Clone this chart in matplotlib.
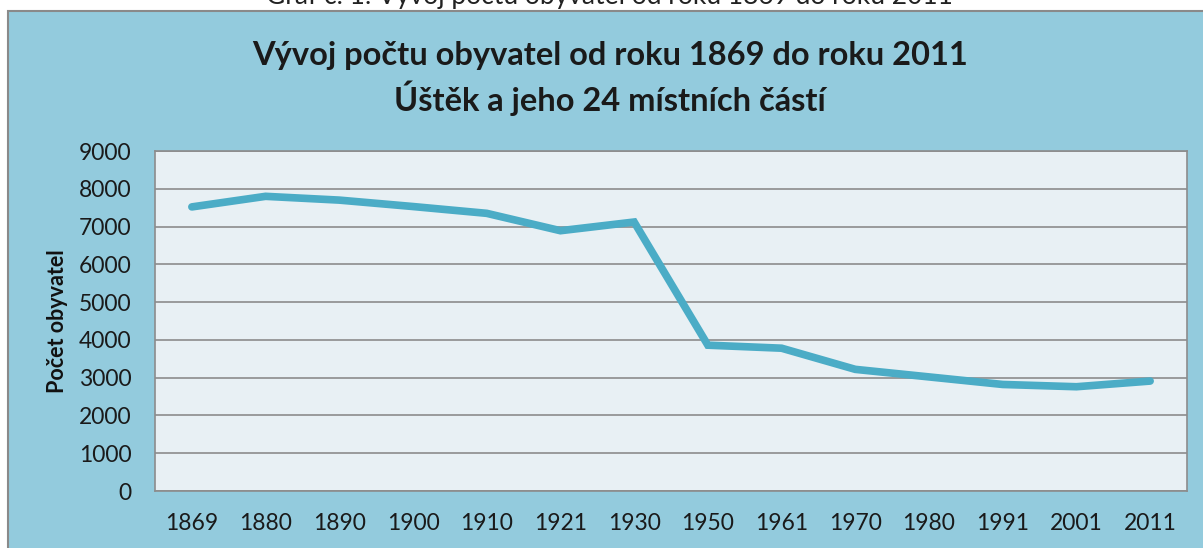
import matplotlib.pyplot as plt
from matplotlib.patches import Rectangle

plt.rcParams['font.family'] = ['Lato', 'DejaVu Sans']

years = ['1869', '1880', '1890', '1900', '1910', '1921', '1930',
         '1950', '1961', '1970', '1980', '1991', '2001', '2011']
population = [7520, 7800, 7700, 7530, 7350, 6890, 7120,
              3860, 3780, 3220, 3020, 2820, 2760, 2910]
y_ticks = list(range(0, 9001, 1000))

fig = plt.figure(figsize=(12.03, 5.48), dpi=100)
fig.patch.set_facecolor('white')

# outer light-blue chart box (right and bottom run off the picture)
fig.patches.append(Rectangle((8 / 1203, -0.05), 1.0, 1.05 - 11 / 548,
                             transform=fig.transFigure, facecolor='#93CBDD',
                             edgecolor='#8a8a8a', linewidth=1.5, zorder=-5))

# caption above the box, cut off at the top edge as in the source
fig.text(0.507, 1 - 4 / 548, 'Graf č. 1: Vývoj počtu obyvatel od roku 1869 do roku 2011',
         ha='center', va='baseline', fontsize=19, color='#222222')

ax = fig.add_axes([155 / 1203, 1 - 491 / 548, 1032 / 1203, 340 / 548])
ax.set_zorder(2)
ax.set_facecolor('#E8F0F4')
x = list(range(len(years)))
ax.plot(x, population, color='#4BACC6', linewidth=5.5, solid_capstyle='round',
        solid_joinstyle='miter', zorder=3)

ax.set_xlim(-0.5, len(years) - 0.5)
ax.set_ylim(0, 9000)
ax.set_yticks(y_ticks)
ax.set_xticks(x)
ax.set_xticklabels(years)
ax.grid(axis='y', color='#8c8c8c', linewidth=1.2)
ax.set_axisbelow(True)
for s in ax.spines.values():
    s.set_color('#8c8c8c')
    s.set_linewidth(1.2)
ax.tick_params(axis='both', length=0, labelsize=16.5, colors='#1a1a1a')
ax.tick_params(axis='y', pad=17)
ax.tick_params(axis='x', pad=16)

fig.text(58 / 1203, 1 - 321 / 548, 'Počet obyvatel', rotation=90, ha='center', va='center',
         fontsize=15.5, fontweight='bold', color='#111111')

fig.text(610 / 1203, 1 - 55 / 548, 'Vývoj počtu obyvatel od roku 1869 do roku 2011',
         ha='center', va='center', fontsize=23.5, fontweight='bold', color='#1a1a1a')
fig.text(610 / 1203, 1 - 98 / 548, 'Úštěk a jeho 24 místních částí',
         ha='center', va='center', fontsize=23.5, fontweight='bold', color='#1a1a1a')

fig.savefig('out.png', dpi=100)
